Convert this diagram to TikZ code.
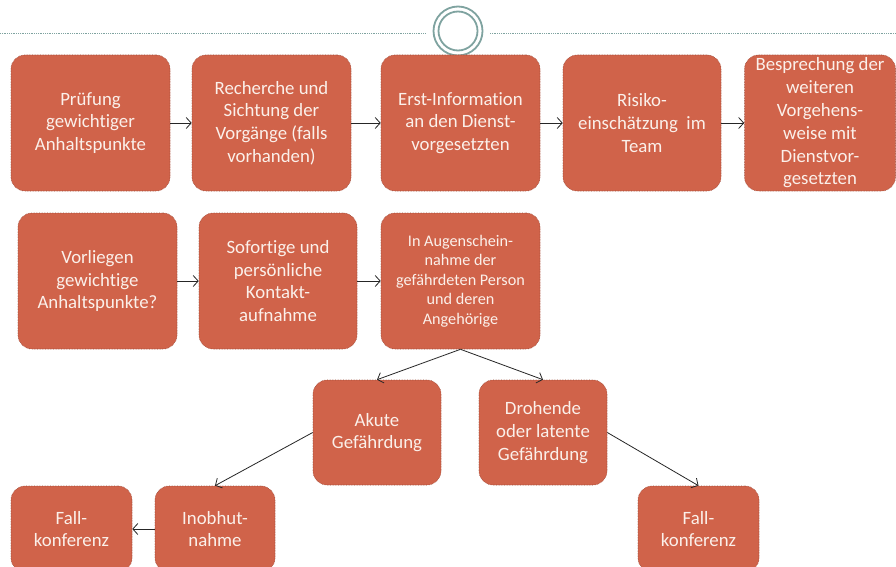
\documentclass[tikz,border=0pt]{standalone}
\usepackage{fontspec}
\setmainfont{Carlito}[Ligatures=NoCommon]
\usetikzlibrary{arrows.meta}
\definecolor{boxfill}{HTML}{D0634A}
\definecolor{boxline}{HTML}{9C4A38}
\definecolor{boxtext}{HTML}{FBF0EA}
\definecolor{ringcol}{HTML}{7FA3A0}
\definecolor{arrcol}{HTML}{262626}
\tikzset{
  flowbox/.style={draw=boxline, densely dotted, line width=0.6pt, fill=boxfill,
    rounded corners=14pt, text=boxtext, align=center, inner sep=1pt,
    font=\fontsize{18.8}{22.8}\selectfont},
  smalltext/.style={font=\fontsize{16.2}{19.6}\selectfont},
  conn/.style={draw=arrcol, line width=0.8pt, -{Straight Barb[length=5pt,width=11pt,line width=0.8pt]}},
}
\begin{document}
\begin{tikzpicture}[x=1pt,y=-1pt]
\clip (0,0) rectangle (896,567);
\fill[white] (0,0) rectangle (896,567);
% top decoration
\coordinate (lineL) at (0,33);
\coordinate (lineLe) at (425,33);
\coordinate (lineR) at (490,33);
\coordinate (lineRe) at (896,33);
\draw[ringcol, densely dotted, line width=0.8pt] (lineL) -- (lineLe);
\draw[ringcol, densely dotted, line width=0.8pt] (lineR) -- (lineRe);
\node[circle, draw=ringcol, line width=1.8pt, fill=white, minimum size=49pt, inner sep=0pt] (ring) at (458,31) {};
\node[circle, draw=ringcol, line width=1.8pt, minimum size=39pt, inner sep=0pt] (ringin) at (458,31) {};
% row 1
\node[flowbox, minimum width=159pt, minimum height=136pt] (b1) at (90.5,123) {Prüfung\\gewichtiger\\Anhaltspunkte};
\node[flowbox, minimum width=159pt, minimum height=136pt] (b2) at (271.5,123) {Recherche und\\Sichtung der\\Vorgänge (falls\\vorhanden)};
\node[flowbox, minimum width=159pt, minimum height=136pt] (b3) at (460.5,123) {Erst-Information\\an den Dienst-\\vorgesetzten};
\node[flowbox, minimum width=158pt, minimum height=136pt] (b4) at (642,123) {Risiko-\\einschätzung\ \ im\\Team};
\node[flowbox, minimum width=151pt, minimum height=136pt] (b5) at (820,123) {Besprechung der\\weiteren\\Vorgehens-\\weise mit\\Dienstvor-\\gesetzten};
% row 2
\node[flowbox, minimum width=159pt, minimum height=136pt] (r1) at (97.5,281) {Vorliegen\\gewichtige\\Anhaltspunkte?};
\node[flowbox, minimum width=158pt, minimum height=136pt] (r2) at (278,281) {Sofortige und\\persönliche\\Kontakt-\\aufnahme};
\node[flowbox, smalltext, minimum width=159pt, minimum height=136pt] (r3) at (460.5,281) {In Augenschein-\\nahme der\\gefährdeten Person\\und deren\\Angehörige};
% row 3
\node[flowbox, minimum width=128pt, minimum height=105pt] (akut) at (377,432.5) {Akute\\Gefährdung};
\node[flowbox, minimum width=128pt, minimum height=105pt] (droh) at (543,432.5) {Drohende\\oder latente\\Gefährdung};
% row 4
\node[flowbox, minimum width=121pt, minimum height=86pt] (fk1) at (71.5,529) {Fall-\\konferenz};
\node[flowbox, minimum width=120pt, minimum height=86pt] (inob) at (215,529) {Inobhut-\\nahme};
\node[flowbox, minimum width=121pt, minimum height=86pt] (fk2) at (698.5,529) {Fall-\\konferenz};
% connectors
\draw[conn] (b1) -- (b2);
\draw[conn] (b2) -- (b3);
\draw[conn] (b3) -- (b4);
\draw[conn] (b4) -- (b5);
\draw[conn] (r1) -- (r2);
\draw[conn] (r2) -- (r3);
\draw[conn] (r3.south) -- (akut.north);
\draw[conn] (r3.south) -- (droh.north);
\draw[conn] (akut.west) -- (inob.north);
\draw[conn] (droh.east) -- (fk2.north);
\draw[conn] (inob) -- (fk1);
\end{tikzpicture}
\end{document}
